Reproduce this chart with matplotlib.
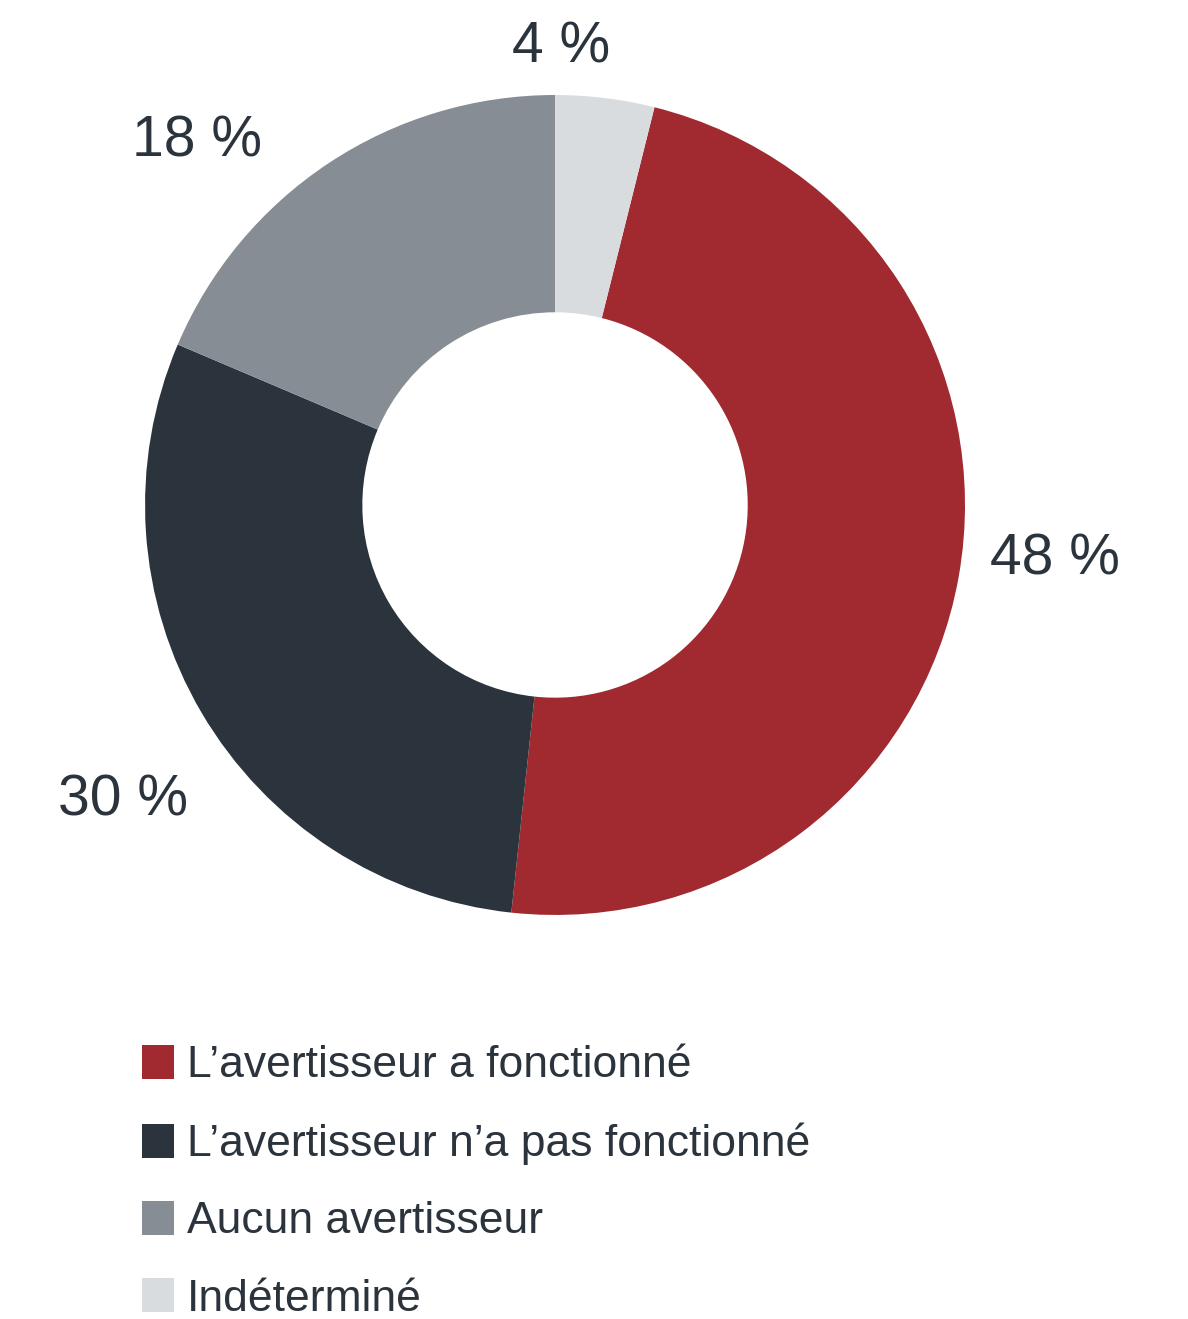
import matplotlib.pyplot as plt
from matplotlib.patches import Patch

categories = ["L\u2019avertisseur a fonctionné",
              "L\u2019avertisseur n\u2019a pas fonctionné",
              "Aucun avertisseur",
              "Indéterminé"]
shares = [47.8, 29.7, 18.6, 3.9]
pct_labels = ["48 %", "30 %", "18 %", "4 %"]
colours = ["#A12A30", "#2B343D", "#878D94", "#D9DCDE"]

text_col = "#2B343D"
plt.rcParams['font.family'] = ['Liberation Sans', 'DejaVu Sans']

fig = plt.figure(figsize=(11.88, 13.19), dpi=100)
ax = fig.add_axes([0.1221, 0.3063, 0.6902, 0.6217])

# last slice (Indéterminé) sits just right of 12 o'clock, so start after it
start = 90 - 360.0 * shares[-1] / sum(shares)
wedges, texts = ax.pie(shares, colors=colours, startangle=start, counterclock=False,
                       labels=pct_labels, labeldistance=1.15,
                       wedgeprops=dict(width=0.53, linewidth=0),
                       textprops=dict(fontsize=41, color=text_col))
ax.set_xlim(-1, 1)
ax.set_ylim(-1, 1)
ax.set_aspect('equal')

# nudge the percentage labels to where they sit in the original
label_pos = [(1.06, -0.132, 'left'), (-0.895, -0.722, 'right'),
             (-0.715, 0.887, 'right'), (0.015, 1.115, 'center')]
for t, (x, y, ha) in zip(texts, label_pos):
    t.set_position((x, y))
    t.set_ha(ha)
    t.set_va('center')

handles = [Patch(facecolor=c, edgecolor='none') for c in colours]
fig.legend(handles, categories, loc='upper left',
           bbox_to_anchor=(142 / 1188.0, 1 - 1045 / 1319.0),
           frameon=False, fontsize=32, labelcolor=text_col,
           handlelength=0.72, handleheight=0.8, handletextpad=0.3,
           labelspacing=0.81, borderpad=0, borderaxespad=0)

fig.savefig('out.png', dpi=100)
